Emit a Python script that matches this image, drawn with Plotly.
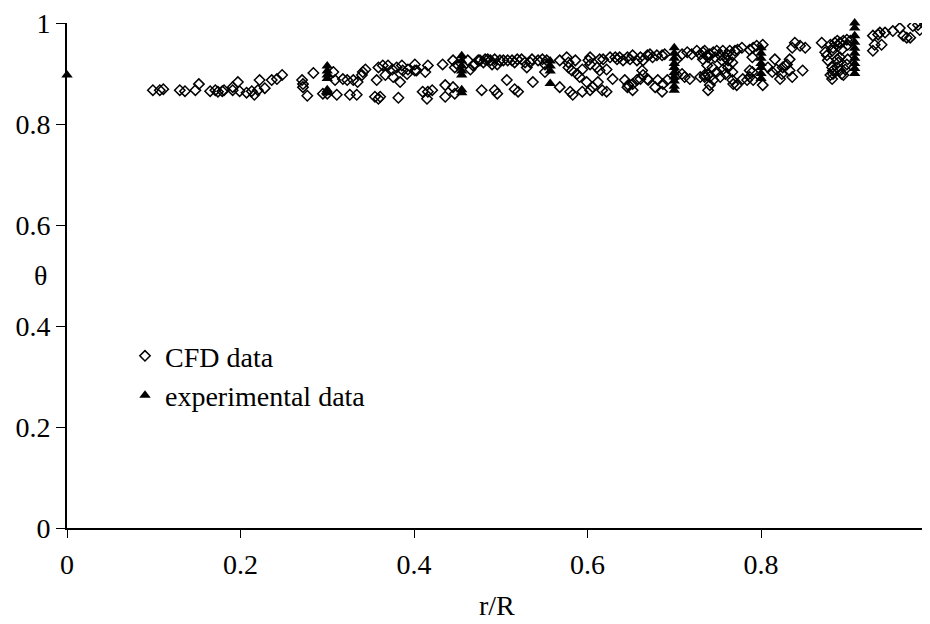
import plotly.graph_objects as go

# ---------------- data ----------------
cfd_r = [
    0.099, 0.107, 0.111, 0.130, 0.136, 0.148, 0.152, 0.165, 0.171, 0.174,
    0.179, 0.181, 0.191, 0.191, 0.197, 0.199, 0.207, 0.213, 0.216, 0.220,
    0.222, 0.228, 0.236, 0.242, 0.248, 0.271, 0.272, 0.272, 0.277, 0.284,
    0.295, 0.300, 0.307, 0.309, 0.311, 0.318, 0.323, 0.326, 0.330, 0.334,
    0.335, 0.340, 0.341, 0.344, 0.355, 0.359, 0.361, 0.357, 0.359, 0.367,
    0.364, 0.370, 0.375, 0.376, 0.380, 0.382, 0.384, 0.386, 0.387, 0.392,
    0.393, 0.401, 0.401, 0.403, 0.413, 0.416, 0.410, 0.416, 0.421, 0.415,
    0.433, 0.445, 0.447, 0.450, 0.436, 0.445, 0.436, 0.447,
    0.462, 0.465, 0.468, 0.470, 0.474, 0.476, 0.480, 0.482, 0.485, 0.488,
    0.490, 0.493, 0.496, 0.499, 0.503, 0.508, 0.478, 0.493, 0.496, 0.507,
    0.513, 0.516, 0.519, 0.524, 0.528, 0.530, 0.534, 0.536, 0.543, 0.548,
    0.551, 0.553, 0.516, 0.520, 0.537, 0.551,
    0.568, 0.568, 0.576, 0.578, 0.578, 0.582, 0.586, 0.588, 0.591, 0.594,
    0.580, 0.583, 0.594, 0.599, 0.601, 0.603, 0.603, 0.611, 0.614, 0.614,
    0.618, 0.622, 0.603, 0.606, 0.612, 0.617, 0.622,
    0.626, 0.632, 0.634, 0.637, 0.641, 0.646, 0.649, 0.652, 0.657, 0.661,
    0.664, 0.669, 0.672, 0.675, 0.680, 0.686, 0.689,
    0.629, 0.643, 0.646, 0.647, 0.652, 0.652, 0.657, 0.661, 0.663, 0.664,
    0.669, 0.670, 0.678, 0.681, 0.686, 0.687, 0.692,
    0.703, 0.709, 0.715, 0.720, 0.726, 0.730, 0.733, 0.738, 0.703, 0.709,
    0.712, 0.718, 0.730, 0.735, 0.739, 0.738,
    0.735, 0.741, 0.745, 0.749, 0.753, 0.756, 0.761, 0.764, 0.767, 0.770,
    0.773, 0.778,
    0.733, 0.739, 0.747, 0.755, 0.759, 0.762, 0.767, 0.744, 0.749, 0.756, 0.762,
    0.735, 0.741, 0.745, 0.741, 0.739, 0.753, 0.759, 0.767, 0.768, 0.767, 0.772,
    0.779, 0.784, 0.787, 0.790, 0.791, 0.787, 0.787, 0.791, 0.795, 0.802,
    0.790, 0.802,
    0.808, 0.813, 0.816, 0.818, 0.822, 0.824, 0.825, 0.828, 0.830, 0.833,
    0.833, 0.836, 0.836, 0.839, 0.845, 0.851, 0.848,
    0.870, 0.874, 0.876, 0.880, 0.882, 0.883, 0.885, 0.888, 0.889, 0.891,
    0.893, 0.895, 0.899, 0.900, 0.903,
    0.877, 0.882, 0.883, 0.880, 0.882, 0.883, 0.888, 0.889, 0.891, 0.893,
    0.895, 0.897, 0.899, 0.900, 0.891, 0.888,
    0.929, 0.929, 0.931, 0.935, 0.937, 0.939, 0.943, 0.952, 0.960, 0.964,
    0.968, 0.972, 0.975, 0.981, 0.983, 0.989,
]
cfd_theta = [
    0.867, 0.867, 0.869, 0.867, 0.865, 0.867, 0.879, 0.865, 0.867, 0.864,
    0.865, 0.867, 0.873, 0.867, 0.883, 0.865, 0.862, 0.865, 0.858, 0.867,
    0.887, 0.871, 0.887, 0.889, 0.897, 0.887, 0.879, 0.873, 0.856, 0.901,
    0.860, 0.860, 0.903, 0.887, 0.858, 0.889, 0.887, 0.858, 0.887, 0.858,
    0.883, 0.897, 0.903, 0.908, 0.854, 0.850, 0.854, 0.887, 0.912, 0.897,
    0.916, 0.916, 0.908, 0.893, 0.912, 0.852, 0.883, 0.916, 0.906, 0.899,
    0.908, 0.918, 0.906, 0.906, 0.903, 0.916, 0.864, 0.864, 0.867, 0.850,
    0.918, 0.926, 0.912, 0.918, 0.877, 0.873, 0.854, 0.860,
    0.926, 0.908, 0.916, 0.918, 0.926, 0.926, 0.922, 0.928, 0.928, 0.926,
    0.918, 0.928, 0.918, 0.926, 0.926, 0.926, 0.867, 0.867, 0.860, 0.887,
    0.926, 0.922, 0.928, 0.928, 0.922, 0.912, 0.922, 0.928, 0.926, 0.928,
    0.918, 0.926, 0.869, 0.864, 0.883, 0.903,
    0.873, 0.926, 0.932, 0.922, 0.912, 0.906, 0.926, 0.899, 0.893, 0.908,
    0.864, 0.858, 0.864, 0.883, 0.926, 0.932, 0.918, 0.912, 0.906, 0.928,
    0.928, 0.908, 0.867, 0.873, 0.883, 0.867, 0.864,
    0.932, 0.932, 0.928, 0.932, 0.926, 0.932, 0.928, 0.936, 0.926, 0.932,
    0.926, 0.936, 0.938, 0.932, 0.936, 0.936, 0.938,
    0.889, 0.887, 0.873, 0.877, 0.867, 0.879, 0.887, 0.889, 0.906, 0.897,
    0.889, 0.887, 0.873, 0.887, 0.864, 0.879, 0.887,
    0.928, 0.938, 0.942, 0.938, 0.945, 0.938, 0.942, 0.936, 0.897, 0.899,
    0.893, 0.889, 0.893, 0.893, 0.897, 0.916,
    0.945, 0.938, 0.942, 0.945, 0.936, 0.945, 0.938, 0.945, 0.936, 0.945,
    0.947, 0.951,
    0.928, 0.932, 0.932, 0.926, 0.932, 0.926, 0.922, 0.912, 0.903, 0.908, 0.912,
    0.897, 0.893, 0.887, 0.877, 0.867, 0.893, 0.899, 0.903, 0.879, 0.887, 0.877,
    0.889, 0.887, 0.893, 0.903, 0.887, 0.906, 0.947, 0.951, 0.955, 0.957,
    0.932, 0.877,
    0.912, 0.903, 0.928, 0.908, 0.889, 0.899, 0.912, 0.916, 0.918, 0.928,
    0.906, 0.893, 0.951, 0.961, 0.955, 0.951, 0.906,
    0.961, 0.942, 0.936, 0.957, 0.945, 0.951, 0.961, 0.965, 0.955, 0.961,
    0.947, 0.965, 0.967, 0.957, 0.965,
    0.926, 0.912, 0.906, 0.897, 0.889, 0.899, 0.912, 0.922, 0.906, 0.899,
    0.897, 0.908, 0.918, 0.928, 0.932, 0.928,
    0.975, 0.945, 0.957, 0.977, 0.981, 0.957, 0.981, 0.984, 0.990, 0.975,
    0.971, 0.971, 0.994, 0.996, 0.986, 1.000,
]

exp_r = [
    0.0,
    0.3, 0.3, 0.3, 0.3, 0.3, 0.3,
    0.455, 0.455, 0.455, 0.455, 0.455, 0.455, 0.455,
    0.557, 0.557, 0.557, 0.557,
    0.7, 0.7, 0.7, 0.7, 0.7, 0.7, 0.7, 0.7, 0.7, 0.7,
    0.8, 0.8, 0.8, 0.8, 0.8, 0.8, 0.8,
    0.908, 0.908, 0.908, 0.908, 0.908, 0.908, 0.908, 0.908, 0.908, 0.908,
    1.0,
]
exp_theta = [
    0.897,
    0.915, 0.905, 0.897, 0.890, 0.868, 0.862,
    0.935, 0.925, 0.915, 0.905, 0.897, 0.868, 0.862,
    0.925, 0.915, 0.905, 0.880,
    0.951, 0.940, 0.930, 0.920, 0.912, 0.902, 0.893, 0.885, 0.875, 0.867,
    0.951, 0.940, 0.930, 0.920, 0.912, 0.900, 0.890,
    1.000, 0.990, 0.975, 0.962, 0.950, 0.940, 0.930, 0.920, 0.910, 0.900,
    1.000,
]

x_tickvals = [0, 0.2, 0.4, 0.6, 0.8]
x_ticktext = ["0", "0.2", "0.4", "0.6", "0.8"]
y_tickvals = [0, 0.2, 0.4, 0.6, 0.8, 1.0]
y_ticktext = ["0", "0.2", "0.4", "0.6", "0.8", "1"]

legend_names = ["CFD data", "experimental data"]
x_title = "r/R"
y_title = "θ"

# ---------------- figure ----------------
FONT = "Liberation Serif, Times New Roman, serif"
FS = 28
OFF = 8                     # page body margin
W, H = 930 - OFF, 624 - OFF
ML, MT = 67 - OFF, 15 - OFF
PLOT_H = 513
MB = H - MT - PLOT_H
plot_w = W - ML
XMAX = plot_w / 867.5       # x = 1 falls just outside the visible window


def px_x(p):                 # page x pixel -> paper fraction
    return (p - OFF - ML) / plot_w


def px_y(p):                 # page y pixel -> paper fraction
    return (528 - p) / PLOT_H


fig = go.Figure()
fig.add_trace(go.Scatter(
    x=cfd_r, y=cfd_theta, mode="markers", name=legend_names[0],
    marker=dict(symbol="diamond-open", size=8, color="black",
                line=dict(width=1.5, color="black")),
))
fig.add_trace(go.Scatter(
    x=exp_r, y=exp_theta, mode="markers", name=legend_names[1],
    marker=dict(symbol="triangle-up", size=10, color="black"),
    cliponaxis=False,
))

axis_font = dict(family=FONT, size=FS, color="black")

fig.update_layout(
    width=W, height=H,
    margin=dict(l=ML, r=0, t=MT, b=MB, pad=0),
    paper_bgcolor="white", plot_bgcolor="white",
    font=dict(family=FONT, size=FS, color="black"),
    showlegend=True,
    legend=dict(x=px_x(125), y=px_y(328),
                xanchor="left", yanchor="top",
                bgcolor="rgba(0,0,0,0)", borderwidth=0,
                font=dict(family=FONT, size=FS, color="black"),
                itemwidth=30, tracegroupgap=0),
    xaxis=dict(range=[0, XMAX], showgrid=False, zeroline=False,
               showline=True, linecolor="black", linewidth=2,
               ticks="outside", ticklen=8, tickwidth=1, tickcolor="black",
               tickvals=x_tickvals, ticktext=x_ticktext,
               tickfont=axis_font, ticklabelstandoff=2,
               ticklabeloverflow="allow"),
    xaxis2=dict(range=[0, XMAX], overlaying="x", anchor="y", side="bottom",
                showgrid=False, zeroline=False, showline=False,
                ticks="inside", ticklen=8, tickwidth=1, tickcolor="black",
                tickvals=x_tickvals, showticklabels=False),
    xaxis3=dict(range=[0, XMAX], overlaying="x", anchor="y", side="top",
                showgrid=False, zeroline=False, showline=True,
                linecolor="#808080", linewidth=1, ticks="",
                showticklabels=False),
    yaxis=dict(range=[0, 1], showgrid=False, zeroline=False,
               showline=True, linecolor="black", linewidth=2,
               ticks="outside", ticklen=9, tickwidth=1, tickcolor="black",
               tickvals=y_tickvals, ticktext=y_ticktext,
               tickfont=axis_font, ticklabelstandoff=0,
               ticklabeloverflow="allow"),
    yaxis2=dict(range=[0, 1], overlaying="y", anchor="x", side="left",
                showgrid=False, zeroline=False, showline=False,
                ticks="inside", ticklen=9, tickwidth=1, tickcolor="black",
                tickvals=y_tickvals, showticklabels=False),
)

fig.add_annotation(text="1", xref="paper", yref="paper",
                   x=px_x(930), y=px_y(568),
                   xanchor="center", yanchor="middle", showarrow=False,
                   font=axis_font)
fig.add_annotation(text=x_title, xref="x", yref="paper",
                   x=(497 - 67) / 867.5, y=px_y(607),
                   xanchor="center", yanchor="middle", showarrow=False,
                   font=axis_font)
fig.add_annotation(text=y_title, xref="paper", yref="paper",
                   x=px_x(40), y=px_y(272),
                   xanchor="center", yanchor="middle", showarrow=False,
                   font=axis_font)

fig.write_html("out.html")
